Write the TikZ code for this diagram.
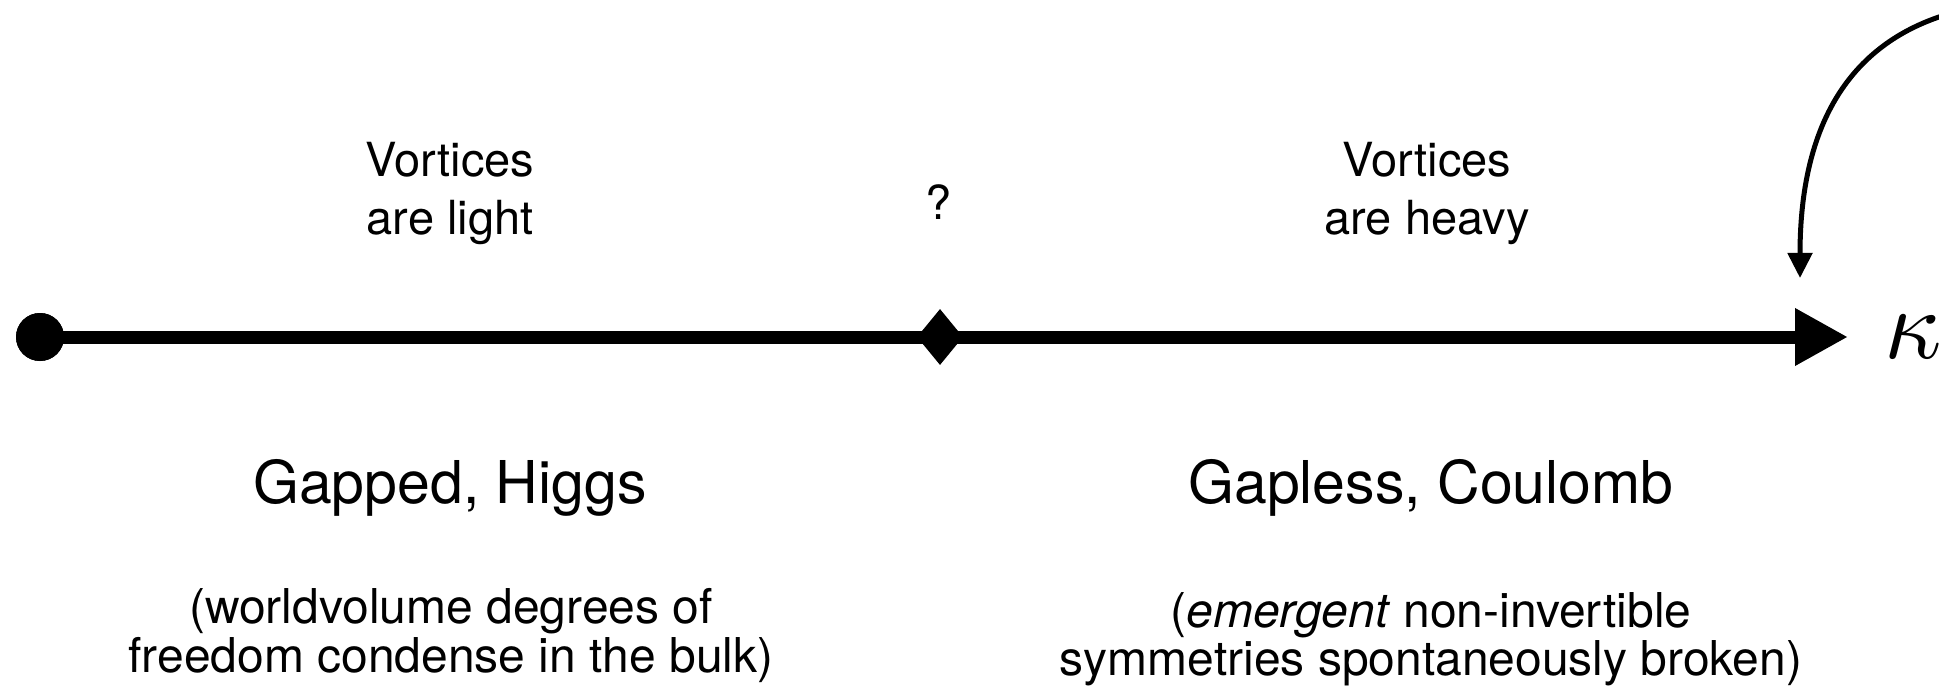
\documentclass[tikz,border=0pt]{standalone}
\usepackage{graphicx}
\usepackage{fontspec}
\setmainfont{TeX Gyre Heros}
\usetikzlibrary{shapes.geometric,arrows.meta}
\begin{document}
\begin{tikzpicture}[x=1pt,y=-1pt,
  lbl/.style={anchor=base, inner sep=0pt, font=\fontsize{47}{56}\selectfont},
  big/.style={anchor=base, inner sep=0pt, font=\fontsize{59}{70}\selectfont},
  paren/.style={anchor=base, inner sep=0pt, font=\fontsize{48}{58}\selectfont},
  axisline/.style={line width=13pt, -{Triangle[length=53pt,width=54pt]}},
  flowline/.style={line width=5pt, -{Triangle[length=25pt,width=24pt]}},
  endpoint/.style={circle, fill=black, minimum size=48pt, inner sep=0pt},
  critpoint/.style={diamond, fill=black, minimum width=46pt, minimum height=56pt, inner sep=0pt}]
\useasboundingbox (0,0) rectangle (1939,687);
\clip (0,0) rectangle (1939,687);
% axis
\coordinate (tip) at (1848,337);
\node[endpoint] (dot) at (40,337) {};
\draw[axisline] (dot.center) -- (tip);
\node[endpoint] at (dot) {};
\node[critpoint] (crit) at (940,337) {};
\node[anchor=base west, inner sep=0pt] (kappa) at (1884,358) {\scalebox{10}{$\kappa$}};
% flow arrow
\coordinate (cstart) at (1990,5);
\coordinate (ctip) at (1800,278);
\draw[flowline] (cstart) .. controls (1870,22) and (1800,100) .. (ctip);
% labels
\node[lbl] (vl1) at (450,177) {Vortices};
\node[lbl] (vl2) at (450,235) {are light};
\node[lbl] (q) at (939,220) {?};
\node[lbl] (vh1) at (1427,177) {Vortices};
\node[lbl] (vh2) at (1427,235) {are heavy};
\node[big] (higgs) at (450,503) {Gapped, Higgs};
\node[big] (coul) at (1431,503) {Gapless, Coulomb};
\node[paren] (h1) at (451,623) {(worldvolume degrees of};
\node[paren] (h2) at (451,672) {freedom condense in the bulk)};
\node[paren] (c1) at (1431,627) {(\textit{emergent} non-invertible};
\node[paren] (c2) at (1431,675) {symmetries spontaneously broken)};
\end{tikzpicture}
\end{document}
